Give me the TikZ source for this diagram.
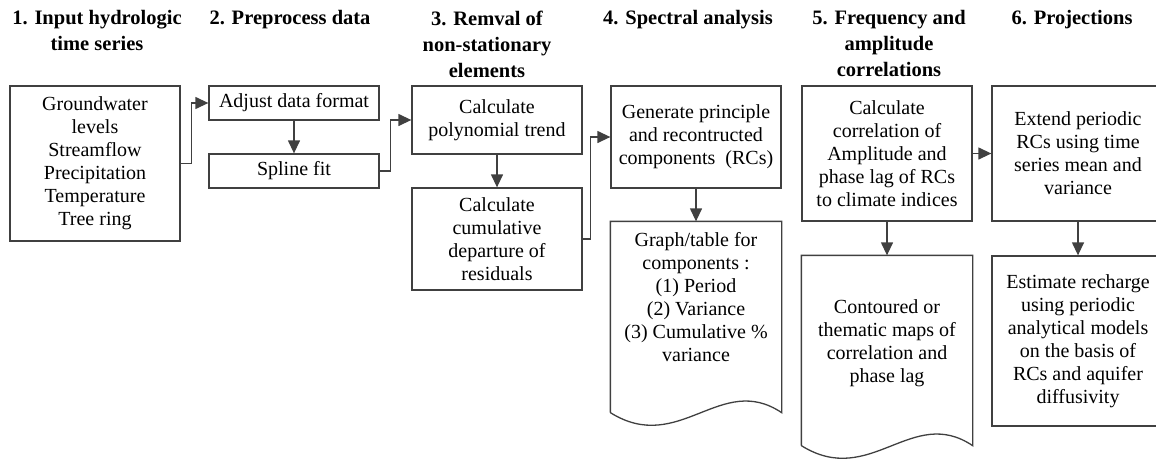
\documentclass[tikz,border=0pt]{standalone}
\usepackage{fontspec}
\setmainfont{Liberation Serif}
\usepackage{tikz}
\usetikzlibrary{positioning,arrows.meta}

% outline of a document box with a wavy bottom
\newcommand{\docoutline}[1]{%
  \draw (#1.south west) -- (#1.north west) -- (#1.north east) -- (#1.south east)
    .. controls +(-61pt,41pt) and +(69pt,-43pt) .. (#1.south west);}

\begin{document}
\begin{tikzpicture}[x=1pt, y=1pt, on grid, color=black!75, line width=1.3pt,
    >={Triangle[length=13pt, width=12pt]},
    box/.style={draw, minimum width=170pt, align=center, inner sep=4pt,
                text=black, font=\fontsize{20}{23}\selectfont},
    docbox/.style={box, draw=none},
    head/.style={anchor=north, align=center, inner sep=0pt, text=black,
                 font=\fontsize{20.5}{26}\selectfont\bfseries}]

    \useasboundingbox (0,0) rectangle (1156,-458);

    % column headings
    \node[head] (h1) at (97,-10) {1. Input hydrologic\\time series};
    \node[head] (h2) at (290,-10) {2. Preprocess data};
    \node[head] (h3) at (487,-10) {3. Remval of\\non-stationary\\elements};
    \node[head] (h4) at (688,-10) {4. Spectral analysis};
    \node[head] (h5) at (889,-10) {5. Frequency and\\amplitude\\correlations};
    \node[head] (h6) at (1072,-10) {6. Projections};

    % steps
    \node[box, minimum height=155pt] (input) at (95,-163.5)
        {Groundwater\\levels\\Streamflow\\Precipitation\\Temperature\\Tree ring};
    \node[box, minimum height=34pt] (adjust) at (294,-103) {Adjust data format};
    \node[box, minimum height=34pt] (spline) [below=68pt of adjust] {Spline fit};

    \node[box, minimum height=68pt] (trend) at (497,-120) {Calculate\\polynomial trend};
    \node[box, minimum height=102pt] (cumdep) [below=119pt of trend]
        {Calculate\\cumulative\\departure of\\residuals};

    \node[box, minimum height=102pt] (rcs) at (696,-137)
        {Generate principle\\and recontructed\\components\enspace(RCs)};
    \node[docbox, minimum height=190pt] (graph) [below=180pt of rcs]
        {\parbox[c][174pt][t]{160pt}{\centering\strut Graph/table for\\components :\\(1) Period\\(2) Variance\\(3) Cumulative \%\\variance}};

    \node[box, minimum height=135pt] (corr) at (887,-153.5)
        {Calculate\\correlation of\\Amplitude and\\phase lag of RCs\\to climate indices};
    \node[docbox, minimum height=189pt] (maps) [below=197pt of corr]
        {\parbox[c][175pt][c]{160pt}{\centering Contoured or\\thematic maps of\\correlation and\\phase lag\\[14pt]}};

    \node[box, minimum width=172pt, minimum height=135pt] (extend) [right=191pt of corr]
        {Extend periodic\\RCs using time\\series mean and\\variance};
    \node[box, minimum width=172pt, minimum height=170pt] (estimate) [below=187.5pt of extend]
        {Estimate recharge\\using periodic\\analytical models\\on the basis of\\RCs and aquifer\\diffusivity};

    \docoutline{graph}
    \docoutline{maps}

    \path[->]
        (adjust) edge (spline)
        (trend) edge (cumdep)
        (rcs) edge (graph)
        (corr) edge (maps)
        (corr) edge (extend)
        (extend) edge (estimate);

    \draw[->] (input.east) -- ++(11,0) |- (adjust.west);
    \draw[->] (spline.east) -- ++(11,0) |- (trend.west);
    \draw[->] (cumdep.east) -- ++(8,0) |- (rcs.west);

\end{tikzpicture}
\end{document}
